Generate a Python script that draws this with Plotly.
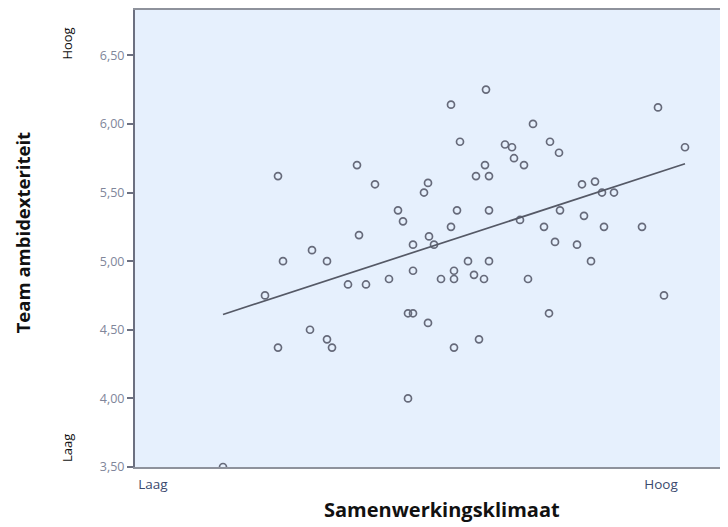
import numpy as np
import plotly.graph_objects as go

# Samenwerkingsklimaat (arbitrary units) and Team ambidexteriteit
klimaat = [1.43, 2.22, 2.40, 2.93, 2.89, 2.63, 2.68, 2.24, 2.94, 2.78, 1.77, 1.48, 1.92,
           3.51, 3.16, 5.23, 3.98, 3.25, 3.70, 3.77, 4.15, 5.50, 4.24, 3.79, 3.50, 3.89,
           3.41, 3.54, 4.47, 4.60, 4.67, 4.79, 3.22, 3.54, 4.25, 3.85, 4.49, 3.16, 4.09,
           4.69, 5.07, 2.99, 4.20, 4.42, 3.33, 3.54, 4.56, 1.30, 2.13, 2.31, 2.54, 2.78,
           2.73, 2.78, 2.93, 1.75, 1.92, 1.97, 1.43, 2.73, 0.88, 3.06, 3.19, 3.19, 3.39,
           3.49, 3.93, 5.29, 4.14, 3.44, 3.19]
ambidext = [5.62, 5.70, 5.56, 5.57, 5.50, 5.37, 5.29, 5.19, 5.18, 5.12, 5.08, 5.00, 5.00,
            6.25, 6.14, 6.12, 6.00, 5.87, 5.85, 5.83, 5.87, 5.83, 5.79, 5.75, 5.70, 5.70,
            5.62, 5.62, 5.56, 5.58, 5.50, 5.50, 5.37, 5.37, 5.37, 5.30, 5.33, 5.25, 5.25,
            5.25, 5.25, 5.12, 5.14, 5.12, 5.00, 5.00, 5.00, 4.75, 4.83, 4.83, 4.87, 4.93,
            4.62, 4.62, 4.55, 4.50, 4.43, 4.37, 4.37, 4.00, 3.50, 4.87, 4.93, 4.87, 4.90,
            4.87, 4.87, 4.75, 4.62, 4.43, 4.37]

y_ticks = [3.5, 4.0, 4.5, 5.0, 5.5, 6.0, 6.5]
x_tick_pos = [0.18, 5.26]
x_tick_labels = ["Laag", "Hoog"]

xa = np.array(klimaat)
ya = np.array(ambidext)
slope, intercept = np.polyfit(xa, ya, 1)
fit_x = [xa.min(), xa.max()]
fit_y = [intercept + slope * v for v in fit_x]

fig = go.Figure()
fig.add_trace(go.Scatter(
    x=klimaat, y=ambidext, mode="markers",
    marker=dict(symbol="circle-open", size=7, color="#666a7a", line=dict(width=1.7)),
    showlegend=False, hoverinfo="x+y"))
fig.add_trace(go.Scatter(
    x=fit_x, y=fit_y, mode="lines",
    line=dict(color="#555966", width=1.7), showlegend=False))

fig.update_layout(
    width=720, height=519,
    margin=dict(l=127, r=0, t=0, b=60),
    paper_bgcolor="white", plot_bgcolor="#E6F0FD",
    separators=",.",
    font=dict(family="Open Sans", color="#222"),
    xaxis=dict(range=[0, 5.93], tickvals=x_tick_pos, ticktext=x_tick_labels,
               ticks="", showgrid=False, zeroline=False,
               showline=True, linecolor="#8e929c", linewidth=2, mirror=True,
               tickfont=dict(size=13.5, color="#3b4a6e", family="Open Sans"),
               ticklabelstandoff=4),
    yaxis=dict(range=[3.5, 6.83], tickvals=y_ticks, tickformat=".2f",
               ticks="outside", ticklen=6, tickwidth=1.5, tickcolor="#6c7080",
               showgrid=False, zeroline=False,
               showline=True, linecolor="#6c7080", linewidth=2,
               tickfont=dict(size=12.5, color="#80869a", family="Open Sans")),
    annotations=[
        dict(text="<b>Team ambidexteriteit</b>", xref="paper", yref="paper",
             x=-0.19, y=0.512, xanchor="center", yanchor="middle",
             textangle=-90, showarrow=False,
             font=dict(size=18.5, color="#111", family="Open Sans")),
        dict(text="<b>Samenwerkingsklimaat</b>", xref="paper", yref="paper",
             x=0.518, y=-0.094, xanchor="center", yanchor="middle", showarrow=False,
             font=dict(size=20, color="#111", family="Open Sans")),
        dict(text="Hoog", xref="paper", yref="paper", x=-0.115, y=0.926,
             xanchor="center", yanchor="middle",
             textangle=-90, showarrow=False,
             font=dict(size=13, color="#111", family="Open Sans")),
        dict(text="Laag", xref="paper", yref="paper", x=-0.115, y=0.041,
             xanchor="center", yanchor="middle",
             textangle=-90, showarrow=False,
             font=dict(size=13, color="#111", family="Open Sans")),
    ],
)

fig.write_html("out.html")
